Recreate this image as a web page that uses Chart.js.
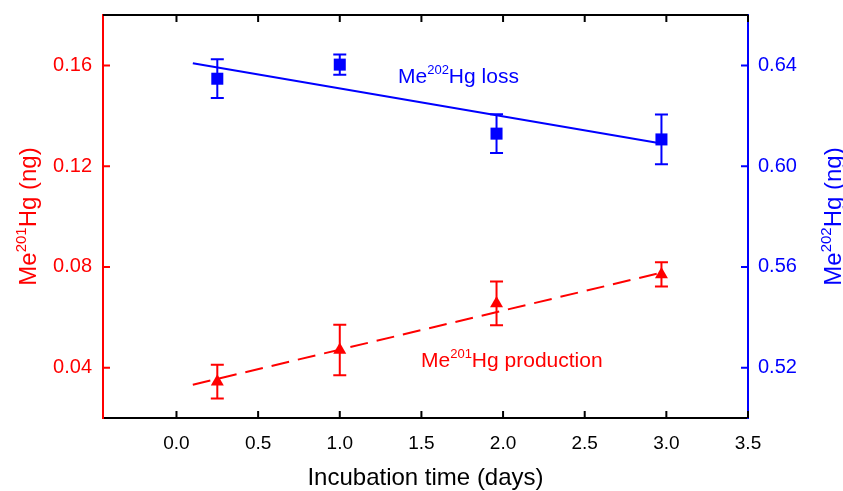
<!DOCTYPE html>
<html>
<head>
<meta charset="utf-8">
<script src="https://cdn.jsdelivr.net/npm/chart.js@4"></script>
<style>
  body { margin: 0; background: #fff; }
</style>
</head>
<body>
<canvas id="chart" width="843" height="491"></canvas>
<script>
// Incubation times (days)
const days = [0.25, 1.0, 1.96, 2.97];

// Me202Hg loss (right axis, ng) and its error bars
const lossValues = [0.6347, 0.6403, 0.6129, 0.6106];
const lossErrors = [0.0077, 0.0040, 0.0077, 0.0099];

// Me201Hg production (left axis, ng) and its error bars
const prodValues = [0.0344, 0.0470, 0.0655, 0.0770];
const prodErrors = [0.0067, 0.0100, 0.0087, 0.0048];

// Fitted lines, end points
const fitDays = [0.1, 2.97];
const lossFit = [0.6408, 0.6090];
const prodFit = [0.0332, 0.0777];

// Tick labels
const xTicks = [0, 0.5, 1.0, 1.5, 2.0, 2.5, 3.0, 3.5];
const leftTicks = [0.04, 0.08, 0.12, 0.16];
const rightTicks = [0.52, 0.56, 0.60, 0.64];

const RED = "#ff0000";
const BLUE = "#0000ff";
const FONT = "'Liberation Sans', Arial, sans-serif";

const toPoints = (xs, ys) => xs.map((x, i) => ({ x: x, y: ys[i] }));

// draws text made of normal and superscript pieces
function drawParts(ctx, parts, x, y, size, color, align) {
  ctx.save();
  ctx.fillStyle = color;
  ctx.textBaseline = "alphabetic";
  ctx.textAlign = "left";
  const supSize = Math.round(size * 0.62);
  let total = 0;
  parts.forEach(p => {
    ctx.font = (p.sup ? supSize : size) + "px " + FONT;
    total += ctx.measureText(p.text).width;
  });
  let cx = align === "center" ? x - total / 2 : x;
  parts.forEach(p => {
    ctx.font = (p.sup ? supSize : size) + "px " + FONT;
    ctx.fillText(p.text, cx, p.sup ? y - size * 0.42 : y);
    cx += ctx.measureText(p.text).width;
  });
  ctx.restore();
}

// error bars, inward tick marks, axis titles and labels
const extras = {
  id: "extras",
  beforeDatasetsDraw(chart) {
    const ctx = chart.ctx;
    const xs = chart.scales.x;
    const drawBars = (vals, errs, scale, color) => {
      ctx.save();
      ctx.strokeStyle = color;
      ctx.lineWidth = 2;
      days.forEach((d, i) => {
        const px = xs.getPixelForValue(d);
        const top = scale.getPixelForValue(vals[i] + errs[i]);
        const bot = scale.getPixelForValue(vals[i] - errs[i]);
        ctx.beginPath();
        ctx.moveTo(px, top); ctx.lineTo(px, bot);
        ctx.moveTo(px - 6.5, top); ctx.lineTo(px + 6.5, top);
        ctx.moveTo(px - 6.5, bot); ctx.lineTo(px + 6.5, bot);
        ctx.stroke();
      });
      ctx.restore();
    };
    drawBars(lossValues, lossErrors, chart.scales.y2, BLUE);
    drawBars(prodValues, prodErrors, chart.scales.y, RED);
  },
  afterDraw(chart) {
    const ctx = chart.ctx;
    const area = chart.chartArea;
    const xs = chart.scales.x, yl = chart.scales.y, yr = chart.scales.y2;
    const tl = 7;

    ctx.save();
    ctx.lineWidth = 2;
    // top frame line
    ctx.strokeStyle = "#000";
    ctx.beginPath();
    ctx.moveTo(area.left, area.top); ctx.lineTo(area.right, area.top);
    ctx.stroke();

    // x ticks, bottom and top, pointing inward
    ctx.beginPath();
    xTicks.forEach(v => {
      const px = xs.getPixelForValue(v);
      ctx.moveTo(px, area.bottom); ctx.lineTo(px, area.bottom - tl);
      ctx.moveTo(px, area.top); ctx.lineTo(px, area.top + tl);
    });
    ctx.stroke();

    ctx.strokeStyle = RED;
    ctx.beginPath();
    leftTicks.forEach(v => {
      const py = yl.getPixelForValue(v);
      ctx.moveTo(area.left, py); ctx.lineTo(area.left + tl, py);
    });
    ctx.stroke();

    ctx.strokeStyle = BLUE;
    ctx.beginPath();
    rightTicks.forEach(v => {
      const py = yr.getPixelForValue(v);
      ctx.moveTo(area.right, py); ctx.lineTo(area.right - tl, py);
    });
    ctx.stroke();
    ctx.restore();

    // x axis title
    drawParts(ctx, [{ text: "Incubation time (days)" }],
      (area.left + area.right) / 2, 485, 24, "#000", "center");

    // left axis title
    const midY = (area.top + area.bottom) / 2;
    ctx.save();
    ctx.translate(36, midY);
    ctx.rotate(-Math.PI / 2);
    drawParts(ctx, [{ text: "Me" }, { text: "201", sup: true }, { text: "Hg (ng)" }],
      0, 0, 24, RED, "center");
    ctx.restore();

    // right axis title
    ctx.save();
    ctx.translate(841, midY);
    ctx.rotate(-Math.PI / 2);
    drawParts(ctx, [{ text: "Me" }, { text: "202", sup: true }, { text: "Hg (ng)" }],
      0, 0, 24, BLUE, "center");
    ctx.restore();

    // series labels
    drawParts(ctx, [{ text: "Me" }, { text: "202", sup: true }, { text: "Hg loss" }],
      398, 83, 21, BLUE, "left");
    drawParts(ctx, [{ text: "Me" }, { text: "201", sup: true }, { text: "Hg production" }],
      421, 367, 21, RED, "left");
  }
};

const noPad = s => { s.paddingTop = 0; s.paddingBottom = 0; s.paddingLeft = 0; s.paddingRight = 0; };

new Chart(document.getElementById("chart"), {
  type: "scatter",
  data: {
    datasets: [
      {
        label: "Me202Hg loss",
        data: toPoints(days, lossValues),
        yAxisID: "y2",
        pointStyle: "rect",
        pointRadius: 8.5,
        backgroundColor: BLUE,
        borderColor: BLUE,
        borderWidth: 0,
        showLine: false,
        order: 1
      },
      {
        label: "loss fit",
        type: "line",
        data: toPoints(fitDays, lossFit),
        yAxisID: "y2",
        borderColor: BLUE,
        borderWidth: 2,
        pointRadius: 0,
        fill: false,
        order: 2
      },
      {
        label: "Me201Hg production",
        data: toPoints(days, prodValues),
        yAxisID: "y",
        pointStyle: "triangle",
        pointRadius: 7.5,
        backgroundColor: RED,
        borderColor: RED,
        borderWidth: 0,
        showLine: false,
        order: 1
      },
      {
        label: "production fit",
        type: "line",
        data: toPoints(fitDays, prodFit),
        yAxisID: "y",
        borderColor: RED,
        borderWidth: 2,
        borderDash: [18, 9],
        pointRadius: 0,
        fill: false,
        order: 2
      }
    ]
  },
  options: {
    responsive: false,
    animation: false,
    layout: { padding: { top: 15, left: 0, right: 0, bottom: 0 } },
    plugins: {
      legend: { display: false },
      tooltip: { enabled: false }
    },
    scales: {
      x: {
        type: "linear",
        min: -0.45,
        max: 3.5,
        afterBuildTicks: s => { s.ticks = xTicks.map(v => ({ value: v })); },
        afterFit: s => { s.height = 73; noPad(s); },
        grid: { display: false, drawTicks: false },
        border: { display: true, color: "#000", width: 2 },
        ticks: {
          padding: 14,
          color: "#000",
          font: { family: FONT, size: 19 },
          callback: v => v.toFixed(1)
        }
      },
      y: {
        position: "left",
        min: 0.02,
        max: 0.18,
        afterBuildTicks: s => { s.ticks = leftTicks.map(v => ({ value: v })); },
        afterFit: s => { s.width = 103; noPad(s); },
        grid: { display: false, drawTicks: false },
        border: { display: true, color: RED, width: 2 },
        ticks: {
          padding: 11,
          color: RED,
          font: { family: FONT, size: 20 },
          callback: v => v.toFixed(2)
        }
      },
      y2: {
        position: "right",
        min: 0.50,
        max: 0.66,
        afterBuildTicks: s => { s.ticks = rightTicks.map(v => ({ value: v })); },
        afterFit: s => { s.width = 95; noPad(s); },
        grid: { display: false, drawTicks: false },
        border: { display: true, color: BLUE, width: 2 },
        ticks: {
          padding: 10,
          color: BLUE,
          font: { family: FONT, size: 20 },
          callback: v => v.toFixed(2)
        }
      }
    }
  },
  plugins: [extras]
});
</script>
</body>
</html>
